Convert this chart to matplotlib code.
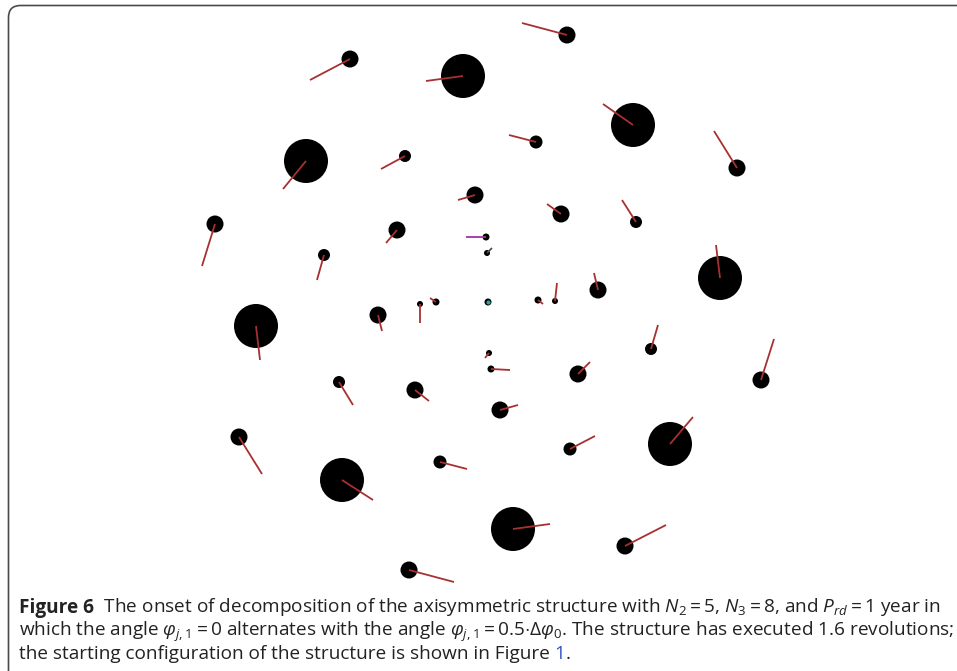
import matplotlib
matplotlib.use("Agg")
import matplotlib.pyplot as plt
from matplotlib.patches import Circle, FancyBboxPatch
from matplotlib import font_manager

# ---- data (pixel-space positions of bodies) ----
body_x = [567, 463, 350, 306, 633, 737, 536, 405, 475, 561, 397, 636, 215, 324,
          486, 487, 720, 598, 256, 378, 420, 436, 488, 538, 555, 651, 761, 339,
          489, 491, 578, 415, 500, 239, 342, 440, 570, 670, 513, 625, 409]
body_y = [35, 76, 59, 161, 125, 168, 142, 156, 195, 214, 230, 222, 224, 255,
          237, 253, 278, 290, 326, 315, 304, 302, 302, 300, 301, 349, 380, 382,
          353, 369, 374, 390, 410, 437, 480, 462, 449, 444, 529, 546, 570]
body_r = [8.5, 22, 8.5, 22, 22, 8.5, 6.5, 6, 8.5, 8.5, 8.5, 6, 8.5, 6,
          3.5, 3, 22, 8.5, 22, 8.5, 3, 3.5, 3.5, 3.5, 3, 6, 8.5, 6,
          3, 3.5, 8.5, 8.5, 8.5, 8.5, 22, 6.5, 6.5, 22, 22, 8.5, 8.5]
# velocity vectors (end minus centre)
vec_x = [-45, -37, -40, -23, -30, -23, -27, -24, -17, -14, -11, -14, -13, -7,
         -20, 5, -4, -4, 4, 4, 0, -6, 0, 5, 2, 7, 13, 14,
         -4, 19, 12, 14, 18, 23, 31, 27, 25, 23, 37, 41, 45]
vec_y = [-12, 5, 21, 28, -21, -37, -7, 13, 5, -10, 13, -22, 42, 25,
         0, -5, -33, -17, 34, 16, 19, -4, 0, 4, -18, -24, -41, 23,
         5, 1, -12, 11, -5, 37, 20, 7, -13, -27, -5, -21, 12]
vec_color = ["#a83030"] * len(body_x)
vec_color[14] = "#a030a8"
vec_color[15] = "#505050"

W, H = 957, 671
fig = plt.figure(figsize=(W / 100, H / 100), dpi=100)
ax = fig.add_axes([0, 0, 1, 1])
ax.set_xlim(0, W)
ax.set_ylim(H, 0)
ax.set_aspect("equal")
ax.axis("off")

# frame
frame = FancyBboxPatch((8.5, 5.5), 1000, 700,
                       boxstyle="round,pad=0,rounding_size=12",
                       fc="white", ec="#4a4a4a", lw=1.2, zorder=0)
ax.add_patch(frame)

for i in range(len(body_x)):
    ax.add_patch(Circle((body_x[i], body_y[i]), body_r[i], fc="black",
                        ec="none", zorder=2))
    if vec_x[i] != 0 or vec_y[i] != 0:
        ax.plot([body_x[i], body_x[i] + vec_x[i]],
                [body_y[i], body_y[i] + vec_y[i]],
                color=vec_color[i], lw=1.3, zorder=3, solid_capstyle="butt")
ax.plot([488], [302], marker="o", ms=2, color="#30a0a0", zorder=4)

# ---- caption ----
names = {f.name for f in font_manager.fontManager.ttflist}
fam = "Liberation Sans Narrow" if "Liberation Sans Narrow" in names else "Open Sans"
plt.rcParams["mathtext.fontset"] = "custom"
plt.rcParams["mathtext.rm"] = fam
plt.rcParams["mathtext.it"] = fam + ":italic"
plt.rcParams["mathtext.bf"] = fam + ":bold"
fs = 13.7
col = "#222222"

tb = ax.text(19, 613, "Figure 6", fontsize=fs, fontweight="bold", family=fam,
             color=col, va="baseline")
ax.annotate(r"  The onset of decomposition of the axisymmetric structure with "
            r"$N_2 = 5$, $N_3 = 8$, and $P_{rd} = 1$ year in",
            xy=(1, 0), xycoords=tb, va="bottom", ha="left",
            fontsize=fs, family=fam, color=col, annotation_clip=False)
ax.text(19, 636, r"which the angle $\varphi_{j,1} = 0$ alternates with the angle "
        r"$\varphi_{j,1} = 0.5{\cdot}\Delta\varphi_0$. The structure has executed 1.6 revolutions;",
        fontsize=fs, family=fam, color=col, va="baseline")
t3 = ax.text(19, 659, "the starting configuration of the structure is shown in Figure ",
             fontsize=fs, family=fam, color=col, va="baseline")
t4 = ax.annotate("1", xy=(1, 0), xycoords=t3, va="bottom", ha="left",
                 fontsize=fs, family=fam, color="#3355cc")
ax.annotate(".", xy=(1, 0), xycoords=t4, va="bottom", ha="left",
            fontsize=fs, family=fam, color=col)

fig.savefig("out.png", dpi=100)
